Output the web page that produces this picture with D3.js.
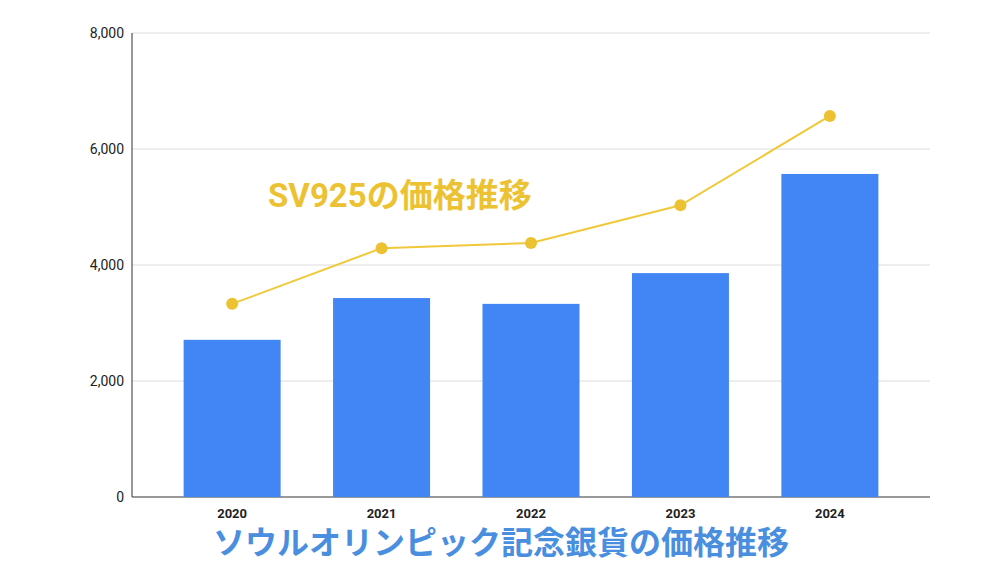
<!DOCTYPE html>
<html><head><meta charset="utf-8">
<script src="https://cdn.jsdelivr.net/npm/d3@7"></script>
<style>body{margin:0;background:#fff}</style></head>
<body><svg id="c" width="1000" height="563"></svg>
<script>
const years = ["2020","2021","2022","2023","2024"];
const coinPrice = [2710, 3430, 3330, 3860, 5570];
const sv925Price = [3330, 4290, 4380, 5030, 6570];
const yTicks = [0, 2000, 4000, 6000, 8000];

const svg = d3.select("#c");
const L = 132, R = 930, T = 33, B = 497;
const x = d3.scalePoint().domain(years).range([L, R]).padding(0.67);
const y = d3.scaleLinear().domain([0, 8000]).range([B, T]);
const font = "Roboto, 'Noto Sans CJK JP', sans-serif";

svg.append("g").selectAll("line").data(yTicks.slice(1)).join("line")
  .attr("x1", L).attr("x2", R).attr("y1", d => y(d)).attr("y2", d => y(d))
  .attr("stroke", "#dcdcdc");
svg.append("line").attr("x1", L).attr("x2", L).attr("y1", T).attr("y2", B).attr("stroke", "#333");
svg.append("line").attr("x1", L).attr("x2", R).attr("y1", B).attr("y2", B).attr("stroke", "#333");

svg.append("g").selectAll("text").data(yTicks).join("text")
  .attr("x", L - 8).attr("y", d => y(d) + 5).attr("text-anchor", "end")
  .attr("font-family", font).attr("font-size", 14).attr("fill", "#222")
  .text(d => d3.format(",")(d));

const bw = 97;
svg.append("g").selectAll("rect").data(years).join("rect")
  .attr("x", (d) => x(d) - bw / 2).attr("width", bw)
  .attr("y", (d, i) => y(coinPrice[i])).attr("height", (d, i) => B - y(coinPrice[i]))
  .attr("fill", "#4285f4");

svg.append("g").selectAll("text").data(years).join("text")
  .attr("x", d => x(d)).attr("y", 518).attr("text-anchor", "middle")
  .attr("font-family", font).attr("font-size", 13).attr("font-weight", "bold").attr("fill", "#222")
  .text(d => d);

const line = d3.line().x((d, i) => x(years[i])).y(d => y(d));
svg.append("path").datum(sv925Price).attr("d", line).attr("fill", "none")
  .attr("stroke", "#f0c93a").attr("stroke-width", 2);
svg.append("g").selectAll("circle").data(sv925Price).join("circle")
  .attr("cx", (d, i) => x(years[i])).attr("cy", d => y(d)).attr("r", 6).attr("fill", "#ecc232");

svg.append("text").attr("x", 268).attr("y", 207).attr("font-family", font)
  .attr("font-size", 33).attr("font-weight", "bold").attr("fill", "#ecc232").text("SV925の価格推移");
svg.append("text").attr("x", 501).attr("y", 554).attr("text-anchor", "middle").attr("font-family", font)
  .attr("font-size", 32).attr("font-weight", "bold").attr("fill", "#4a8ee0").text("ソウルオリンピック記念銀貨の価格推移");
</script></body></html>
